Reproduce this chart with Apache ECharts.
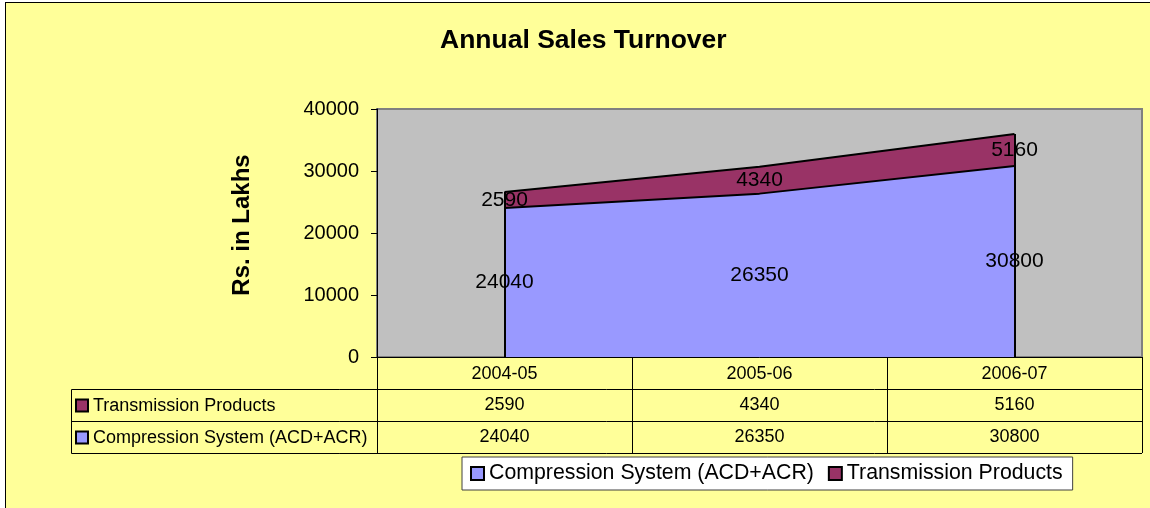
<!DOCTYPE html>
<html>
<head>
<meta charset="utf-8">
<script src="https://cdn.jsdelivr.net/npm/echarts@6/dist/echarts.min.js"></script>
<style>
  body { margin: 0; background: #fff; }
  .frame { position: absolute; left: 5px; top: 2px; width: 1150px; height: 510px; border: 1px solid #000; background: #FFFF99; }
  #chart { position: absolute; left: 0; top: 0; width: 1150px; height: 508px; }
</style>
</head>
<body>
<div class="frame"></div>
<div id="chart"></div>
<script>
// data
const categories = ['2004-05', '2005-06', '2006-07'];
const compression = [24040, 26350, 30800];
const transmission = [2590, 4340, 5160];
const seriesNames = ['Compression System (ACD+ACR)', 'Transmission Products'];
const yTicks = [0, 10000, 20000, 30000, 40000];

const FONT = '"Liberation Sans", Arial, sans-serif';
const BLUE = '#9999FF';
const PLUM = '#993366';
const totals = categories.map((c, i) => compression[i] + transmission[i]);

const chart = echarts.init(document.getElementById('chart'));
chart.setOption({
  animation: false,
  backgroundColor: 'transparent',
  textStyle: { fontFamily: FONT, color: '#000' },
  title: {
    text: 'Annual Sales Turnover',
    left: 435,
    top: 22,
    textStyle: { fontFamily: FONT, fontSize: 26.5, fontWeight: 'bold', color: '#000' }
  },
  grid: {
    left: 377, top: 109, width: 765, height: 248,
    show: true,
    backgroundColor: '#C0C0C0',
    borderColor: '#808080',
    borderWidth: 2
  },
  legend: {
    left: 462, top: 457,
    padding: [6, 10, 6, 8],
    itemGap: 14,
    itemWidth: 13, itemHeight: 13,
    icon: 'rect',
    backgroundColor: '#fff',
    borderColor: '#404040',
    borderWidth: 1,
    textStyle: { fontFamily: FONT, fontSize: 21.3, color: '#000' },
    data: [
      { name: seriesNames[0], itemStyle: { color: BLUE, borderColor: '#000', borderWidth: 2 } },
      { name: seriesNames[1], itemStyle: { color: PLUM, borderColor: '#000', borderWidth: 2 } }
    ]
  },
  xAxis: {
    type: 'category',
    data: categories,
    boundaryGap: true,
    axisLine: { lineStyle: { color: '#000', width: 1 } },
    axisTick: { show: true, length: 96, lineStyle: { color: '#000', width: 1 } },
    axisLabel: { fontFamily: FONT, fontSize: 18, color: '#000', margin: 8 }
  },
  yAxis: {
    type: 'value',
    min: yTicks[0],
    max: yTicks[yTicks.length - 1],
    interval: yTicks[1] - yTicks[0],
    name: 'Rs. in Lakhs',
    nameLocation: 'middle',
    nameRotate: 90,
    nameGap: 123,
    nameTextStyle: { fontFamily: FONT, fontSize: 24, fontWeight: 'bold', color: '#000', padding: [0, 0, 0, 16] },
    axisLine: { show: true, lineStyle: { color: '#000', width: 1 } },
    axisTick: { show: true, length: 6, lineStyle: { color: '#000' } },
    axisLabel: { fontFamily: FONT, fontSize: 20, color: '#000', margin: 18, formatter: v => String(v) },
    splitLine: { show: false }
  },
  series: [
    {
      name: seriesNames[0],
      type: 'line',
      stack: 'area',
      data: compression,
      showSymbol: false,
      itemStyle: { color: BLUE },
      lineStyle: { color: '#000', width: 2 },
      areaStyle: { color: BLUE, opacity: 1 }
    },
    {
      name: seriesNames[1],
      type: 'line',
      stack: 'area',
      data: transmission,
      showSymbol: false,
      itemStyle: { color: PLUM },
      lineStyle: { color: '#000', width: 2 },
      areaStyle: { color: PLUM, opacity: 1 },
      markLine: {
        silent: true,
        symbol: ['none', 'none'],
        label: { show: false },
        lineStyle: { color: '#000', width: 2, type: 'solid' },
        data: [
          [{ coord: [categories[0], 0] }, { coord: [categories[0], totals[0]] }],
          [{ coord: [categories[2], 0] }, { coord: [categories[2], totals[2]] }]
        ]
      }
    },
    // invisible stacked bars only carry the value labels to the middle of each band
    {
      name: 'lblCompression',
      type: 'bar',
      stack: 'labels',
      data: compression,
      barWidth: 1,
      itemStyle: { color: 'rgba(0,0,0,0)' },
      label: { show: true, position: 'inside', fontFamily: FONT, fontSize: 21, color: '#000' },
      z: 5
    },
    {
      name: 'lblTransmission',
      type: 'bar',
      stack: 'labels',
      data: transmission,
      barWidth: 1,
      itemStyle: { color: 'rgba(0,0,0,0)' },
      label: { show: true, position: 'inside', fontFamily: FONT, fontSize: 21, color: '#000' },
      z: 5
    }
  ]
});

// data table under the plot
const tableLeft = 71.5, tableRight = 1142, headerBottom = 389.5, rowH = 32;
const rows = [
  { name: seriesNames[1], values: transmission, color: PLUM },
  { name: seriesNames[0], values: compression, color: BLUE }
];
const graphic = [];
[0, 1, 2].forEach(k => {
  const y = headerBottom + k * rowH;
  graphic.push({ type: 'line', shape: { x1: tableLeft, y1: y, x2: tableRight, y2: y }, style: { stroke: '#000', lineWidth: 1 } });
});
graphic.push({ type: 'line', shape: { x1: tableLeft, y1: headerBottom, x2: tableLeft, y2: headerBottom + 2 * rowH }, style: { stroke: '#000', lineWidth: 1 } });
rows.forEach((r, k) => {
  const cy = headerBottom + k * rowH + rowH / 2;
  graphic.push({ type: 'rect', shape: { x: 76, y: cy - 6, width: 12, height: 12 }, style: { fill: r.color, stroke: '#000', lineWidth: 2 } });
  graphic.push({ type: 'text', x: 93, y: cy + 1, style: { text: r.name, font: '18px ' + FONT, fill: '#000', textVerticalAlign: 'middle' } });
  r.values.forEach((v, i) => {
    const px = chart.convertToPixel({ xAxisIndex: 0 }, categories[i]);
    graphic.push({ type: 'text', x: px, y: cy, style: { text: String(v), font: '18px ' + FONT, fill: '#000', textAlign: 'center', textVerticalAlign: 'middle' } });
  });
});
chart.setOption({ graphic: graphic });
</script>
</body>
</html>
